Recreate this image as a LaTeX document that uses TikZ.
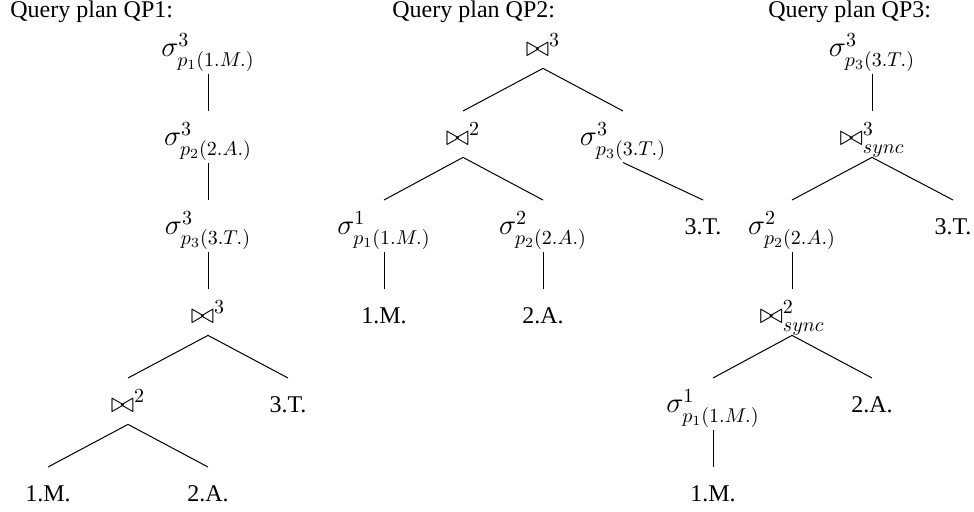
\documentclass[tikz,border=0pt,12pt]{standalone}
\usepackage[no-math]{fontspec}
\setmainfont{Liberation Serif}
\usepackage{amsmath}
\usepackage{xcolor}

\tikzset{
    op/.style={anchor=base, inner sep=0pt, font=\large},
    joinop/.style={op, text depth=4.5pt},
    rel/.style={anchor=base, inner sep=0pt},
    title/.style={anchor=base west, inner sep=0pt},
    link/.style={line width=0.5pt}
}

\begin{document}
\begin{tikzpicture}[x=0.5pt, y=-0.5pt]
        \useasboundingbox (0,0) rectangle (974,512);

        % Query plan QP1
        \begin{scope}[shift={(0,0)}]
            \node[title] (t1) at (10,18) {Query plan QP1:};

            % selections on top of the joins
            \node[op] (q1s1) at (208,57) {$\sigma^3_{p_1(1.M.)}$};
            \node[op] (q1s2) at (208,146) {$\sigma^3_{p_2(2.A.)}$};
            \node[op] (q1s3) at (208,235) {$\sigma^3_{p_3(3.T.)}$};

            % joins
            \node[joinop] (q1j3) at (208,324) {$\bowtie^3$};
            \node[joinop] (q1j2) at (128,413) {$\bowtie^2$};

            % relations
            \node[rel] (q1t) at (288,413) {3.T.};
            \node[rel] (q1m) at (48,502) {1.M.};
            \node[rel] (q1a) at (208,502) {2.A.};
        \end{scope}

        % Query plan QP2
        \begin{scope}[shift={(335,0)}]
            \node[title] (t2) at (57,18) {Query plan QP2:};

            % joins
            \node[joinop] (q2j3) at (208,57) {$\bowtie^3$};
            \node[joinop] (q2j2) at (128,146) {$\bowtie^2$};

            % selections below the joins
            \node[op] (q2s3) at (288,146) {$\sigma^3_{p_3(3.T.)}$};
            \node[op] (q2s1) at (49,235) {$\sigma^1_{p_1(1.M.)}$};
            \node[op] (q2s2) at (208,235) {$\sigma^2_{p_2(2.A.)}$};

            % relations
            \node[rel] (q2t) at (368,235) {3.T.};
            \node[rel] (q2m) at (49,324) {1.M.};
            \node[rel] (q2a) at (208,324) {2.A.};
        \end{scope}

        % Query plan QP3
        \begin{scope}[shift={(664,0)}]
            \node[title] (t3) at (104,18) {Query plan QP3:};

            % selections and sync joins, alternating
            \node[op] (q3s3) at (208,57) {$\sigma^3_{p_3(3.T.)}$};
            \node[joinop] (q3j3) at (208,146) {$\bowtie^3_{sync}$};
            \node[op] (q3s2) at (128,235) {$\sigma^2_{p_2(2.A.)}$};
            \node[joinop] (q3j2) at (128,324) {$\bowtie^2_{sync}$};
            \node[op] (q3s1) at (49,413) {$\sigma^1_{p_1(1.M.)}$};

            % relations
            \node[rel] (q3t) at (289,235) {3.T.};
            \node[rel] (q3a) at (208,413) {2.A.};
            \node[rel] (q3m) at (49,502) {1.M.};
        \end{scope}

        % Edges, parent/child
        \foreach \a/\b in {q1s1/q1s2, q1s2/q1s3, q1s3/q1j3, q1j3/q1j2, q1j3/q1t, q1j2/q1m, q1j2/q1a,
                           q2j3/q2j2, q2j3/q2s3, q2j2/q2s1, q2j2/q2s2, q2s3/q2t, q2s1/q2m, q2s2/q2a,
                           q3s3/q3j3, q3j3/q3s2, q3j3/q3t, q3s2/q3j2, q3j2/q3s1, q3j2/q3a, q3s1/q3m} {
            \draw[link] ([yshift=-1pt]\a.south) -- ([yshift=17.5pt]\b.base);
        }
    \end{tikzpicture}
\end{document}
